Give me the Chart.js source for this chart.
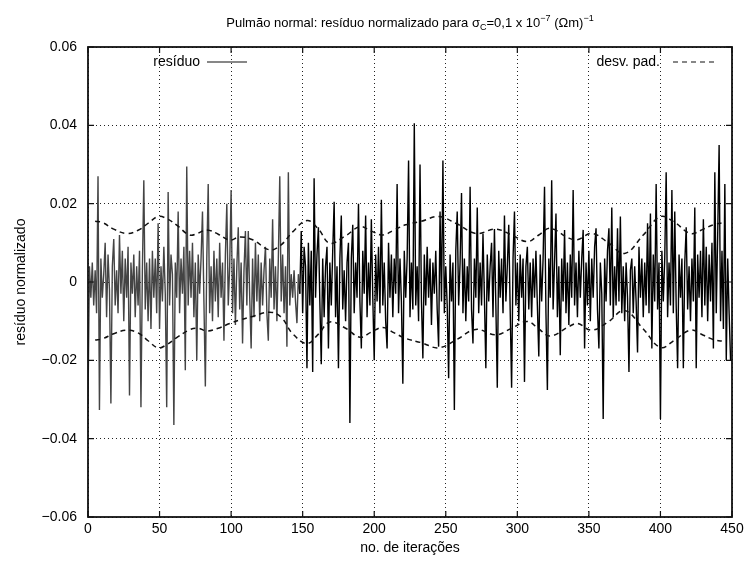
<!DOCTYPE html>
<html>
<head>
<meta charset="utf-8">
<script src="https://cdn.jsdelivr.net/npm/chart.js@4.4.1/dist/chart.umd.min.js"></script>
<style>
  body { margin: 0; background: #fff; }
  #wrap { position: relative; width: 750px; height: 566px; }
  #titulo {
    position: absolute; left: 88px; width: 644px; top: 15px;
    text-align: center; color: #000; line-height: 16px;
    font: 13px "Liberation Sans", Arial, sans-serif;
  }
  #titulo sub, #titulo sup { font-size: 9px; line-height: 0; position: relative; vertical-align: baseline; }
  #titulo sup { top: -6px; }
  #titulo sub { top: 3px; }
</style>
</head>
<body>
<div id="wrap">
  <canvas id="grafico"></canvas>
  <div id="titulo">Pulmão normal: resíduo normalizado para σ<sub>C</sub>=0,1 x 10<sup>−7</sup> (Ωm)<sup>−1</sup></div>
</div>
<script>
// resíduo normalizado, um valor por iteração (0..449)
const residuo = [
  -0.031, 0.004, -0.004, 0.005, -0.006, 0.003, -0.008, 0.027, -0.0327, 0.006,
  -0.004, 0.002, 0.010, -0.009, 0.007, -0.002, -0.031, 0.004, 0.011, -0.006,
  0.003, -0.008, 0.012, -0.003, 0.008, -0.010, 0.006, -0.004, 0.009, -0.029,
  0.005, -0.003, 0.007, -0.009, 0.004, -0.006, 0.008, -0.032, 0.003, 0.026,
  -0.007, 0.005, -0.010, 0.006, -0.012, 0.008, -0.004, 0.006, -0.008, 0.015,
  -0.012, 0.004, -0.005, 0.009, -0.003, -0.032, 0.023, -0.006, 0.007, 0.002,
  -0.0365, 0.005, -0.004, 0.018, -0.008, 0.006, -0.003, 0.009, -0.0225, 0.0295,
  -0.006, 0.008, -0.004, 0.010, -0.009, 0.005, -0.020, 0.007, -0.003, 0.006,
  0.018, -0.005, -0.0267, 0.006, 0.025, -0.008, 0.004, -0.010, 0.008, -0.005,
  0.006, -0.009, 0.010, -0.004, 0.005, -0.015, 0.007, 0.020, -0.006, 0.004,
  0.0235, -0.008, 0.006, -0.011, 0.004, 0.014, -0.007, 0.005, -0.0157, 0.003,
  0.013, -0.006, 0.013, -0.004, -0.017, 0.006, -0.009, 0.010, -0.005, 0.007,
  -0.010, 0.005, -0.006, 0.003, 0.009, -0.008, -0.015, 0.006, -0.004, 0.016,
  -0.007, 0.004, -0.010, 0.006, 0.027, -0.005, 0.007, -0.008, 0.004, -0.0165,
  0.028, -0.006, 0.002, -0.004, 0.003, -0.005, -0.0105, 0.002, -0.003, 0.013,
  -0.008, 0.009, 0.004, -0.022, 0.010, -0.006, 0.008, -0.023, 0.0265, -0.004,
  0.007, 0.014, -0.005, -0.021, 0.006, -0.009, 0.004, 0.009, -0.017, 0.005,
  -0.006, 0.008, 0.0205, -0.009, 0.004, -0.022, 0.006, 0.017, -0.007, 0.003,
  -0.010, 0.005, 0.010, -0.036, 0.006, 0.0146, -0.008, 0.005, -0.004, 0.020,
  -0.005, -0.017, 0.008, -0.003, 0.017, -0.009, 0.005, -0.006, 0.016, -0.004,
  -0.020, 0.007, -0.005, 0.009, -0.008, 0.021, -0.006, 0.005, -0.010, -0.017,
  0.010, -0.004, 0.007, -0.009, 0.006, -0.003, 0.025, -0.008, 0.006, -0.005,
  -0.026, 0.008, -0.004, 0.006, 0.031, -0.009, 0.005, -0.007, 0.0405, -0.006,
  0.004, -0.010, 0.030, -0.005, -0.0195, 0.007, -0.006, 0.009, -0.004, 0.006,
  -0.011, 0.005, -0.003, 0.008, -0.007, -0.0165, 0.018, -0.005, 0.031, -0.008,
  0.004, -0.006, -0.0246, 0.007, -0.005, 0.005, -0.0327, 0.008, 0.018, -0.006,
  0.005, 0.0227, -0.008, 0.006, -0.010, 0.004, -0.005, 0.0243, -0.007, -0.0157,
  0.006, -0.004, 0.019, -0.008, 0.005, -0.006, 0.0124, -0.004, -0.022, 0.007,
  -0.005, 0.004, 0.010, -0.009, 0.0135, -0.006, -0.027, 0.008, -0.004, 0.006,
  -0.008, 0.017, -0.005, 0.004, 0.0146, -0.007, -0.027, 0.006, 0.018, -0.006,
  0.005, -0.010, 0.007, -0.004, 0.006, -0.0255, 0.004, 0.009, -0.007, 0.005,
  -0.009, 0.006, -0.004, 0.008, -0.006, -0.019, 0.007, -0.005, 0.006, 0.0243,
  -0.008, -0.0276, 0.006, -0.004, 0.026, -0.007, 0.005, 0.0175, -0.009, 0.004,
  -0.0187, 0.006, -0.005, 0.0133, -0.008, 0.005, -0.011, 0.007, -0.004, 0.0235,
  -0.006, 0.005, -0.009, 0.008, -0.004, 0.006, 0.0133, -0.017, 0.005, -0.006,
  0.008, -0.010, 0.006, -0.004, 0.009, 0.0137, -0.007, -0.017, 0.005, -0.003,
  -0.035, 0.006, -0.005, 0.008, 0.0137, -0.006, 0.019, -0.009, 0.004, -0.006,
  0.0137, -0.005, 0.0167, -0.008, 0.004, -0.010, 0.005, -0.004, -0.023, 0.003,
  0.006, -0.008, 0.004, -0.005, -0.018, 0.009, -0.004, 0.006, -0.009, 0.005,
  -0.006, 0.015, -0.008, 0.0175, -0.017, 0.007, -0.005, 0.025, -0.007, 0.005,
  -0.035, 0.008, -0.005, 0.006, 0.028, -0.009, 0.005, -0.006, 0.0235, -0.008,
  0.018, -0.006, -0.022, 0.007, -0.004, 0.006, -0.022, 0.005, 0.014, -0.007,
  0.004, -0.010, 0.006, -0.005, 0.019, -0.022, 0.007, -0.004, 0.008, -0.009,
  0.016, -0.006, 0.009, -0.010, 0.007, -0.005, 0.010, -0.017, 0.028, -0.008,
  0.012, 0.035, -0.010, 0.008, -0.012, 0.025, -0.020, 0.006, -0.008, -0.020
];

// desvio padrão (envelope tracejado)
const iterDesv = [5, 10, 18, 27, 35, 42, 49, 55, 62, 71,
  77, 83, 91, 99, 106, 115, 127, 135, 143, 153,
  161, 169, 180, 190, 198, 206, 214, 222, 233, 245,
  258, 271, 285, 296, 307, 315, 323, 336, 342, 352,
  363, 375, 388, 400, 410, 421, 430, 437, 445];
const desvSup = [0.0155, 0.0152, 0.0135, 0.0124, 0.0132, 0.015, 0.0167, 0.0162, 0.0145, 0.012,
  0.0125, 0.0133, 0.0122, 0.0107, 0.0115, 0.0108, 0.0082, 0.0095, 0.0128, 0.0157,
  0.0135, 0.0099, 0.0118, 0.0141, 0.013, 0.012, 0.0133, 0.0146, 0.0155, 0.0167,
  0.0148, 0.0124, 0.0135, 0.012, 0.0103, 0.012, 0.0137, 0.0112, 0.0108, 0.0124,
  0.0102, 0.0073, 0.012, 0.0167, 0.0152, 0.0124, 0.0135, 0.0146, 0.0152];
const desvInf = [-0.0148, -0.0145, -0.0132, -0.0123, -0.013, -0.015, -0.0168, -0.016, -0.0142, -0.0122,
  -0.0118, -0.0125, -0.0118, -0.0106, -0.0097, -0.0088, -0.0077, -0.009, -0.0132, -0.0157,
  -0.0133, -0.0102, -0.0118, -0.0141, -0.0128, -0.0116, -0.013, -0.0144, -0.0155, -0.0168,
  -0.0146, -0.0121, -0.0135, -0.0118, -0.0101, -0.012, -0.0138, -0.0114, -0.0106, -0.0123,
  -0.0103, -0.0073, -0.012, -0.0167, -0.0148, -0.0123, -0.0136, -0.0147, -0.0152];

const xTicks = { min: 0, max: 450, step: 50 };
const yTicks = { min: -0.06, max: 0.06, step: 0.02 };

const fonte = '"Liberation Sans", Arial, sans-serif';

// moldura, marcas internas e legenda no estilo gnuplot
const moldura = {
  id: "moldura",
  afterDatasetsDraw(chart) {
    const { ctx, chartArea: a, scales } = chart;
    ctx.save();
    ctx.strokeStyle = "#111";
    ctx.lineWidth = 1.2;
    ctx.beginPath();
    scales.x.ticks.forEach((t) => {
      const px = scales.x.getPixelForValue(t.value);
      ctx.moveTo(px, a.bottom); ctx.lineTo(px, a.bottom - 6);
      ctx.moveTo(px, a.top); ctx.lineTo(px, a.top + 6);
    });
    scales.y.ticks.forEach((t) => {
      const py = scales.y.getPixelForValue(t.value);
      ctx.moveTo(a.left, py); ctx.lineTo(a.left + 6, py);
      ctx.moveTo(a.right, py); ctx.lineTo(a.right - 6, py);
    });
    ctx.stroke();
    ctx.lineWidth = 1.8;
    ctx.strokeRect(a.left, a.top, a.right - a.left, a.bottom - a.top);

    // legenda
    const ly = a.top + 15;
    ctx.font = "14px " + fonte;
    ctx.fillStyle = "#000";
    ctx.textAlign = "right";
    ctx.textBaseline = "middle";
    ctx.fillText("resíduo", a.left + 112, ly);
    ctx.fillText("desv. pad.", a.right - 72, ly);
    ctx.lineWidth = 1.2;
    ctx.beginPath();
    ctx.moveTo(a.left + 119, ly); ctx.lineTo(a.left + 159, ly);
    ctx.stroke();
    ctx.setLineDash([5, 4]);
    ctx.beginPath();
    ctx.moveTo(a.right - 59, ly); ctx.lineTo(a.right - 16, ly);
    ctx.stroke();
    ctx.restore();
  },
};

const fmtY = (v) => {
  if (Math.abs(v) < 1e-9) return "0";
  return (v < 0 ? "\u2212" : "") + Math.abs(v).toFixed(2);
};

new Chart(document.getElementById("grafico"), {
  type: "line",
  data: {
    datasets: [
      {
        label: "resíduo",
        data: residuo.map((v, i) => ({ x: i, y: v })),
        borderColor: "#000",
        borderWidth: 1.4,
        pointRadius: 0,
        tension: 0,
        order: 2,
        segment: {
          borderColor: (c) => (c.p0.parsed.x < 148 ? "#444" : "#000"),
        },
      },
      {
        label: "desv. pad.",
        data: iterDesv.map((x, i) => ({ x: x, y: desvSup[i] })),
        borderColor: "#111",
        borderWidth: 1.5,
        borderDash: [5, 4],
        pointRadius: 0,
        tension: 0.4,
        order: 1,
      },
      {
        label: "desv. pad. inf",
        data: iterDesv.map((x, i) => ({ x: x, y: desvInf[i] })),
        borderColor: "#111",
        borderWidth: 1.5,
        borderDash: [5, 4],
        pointRadius: 0,
        tension: 0.4,
        order: 1,
      },
    ],
  },
  options: {
    responsive: true,
    maintainAspectRatio: false,
    animation: false,
    layout: { padding: { top: 47, right: 18, bottom: 0, left: 0 } },
    plugins: {
      legend: { display: false },
      tooltip: { enabled: false },
    },
    scales: {
      x: {
        type: "linear",
        min: xTicks.min,
        max: xTicks.max,
        afterFit: (s) => { s.height = 49; },
        ticks: { stepSize: xTicks.step, color: "#000", padding: 4, font: { family: fonte, size: 14 } },
        grid: { color: "#222", lineWidth: 1, drawTicks: false },
        border: { display: false, dash: [1, 3] },
        title: {
          display: true, text: "no. de iterações", color: "#000",
          font: { family: fonte, size: 14 }, padding: { top: 0, bottom: 9 },
        },
      },
      y: {
        min: yTicks.min,
        max: yTicks.max,
        afterFit: (s) => { s.width = 88; },
        ticks: { stepSize: yTicks.step, color: "#000", padding: 11, font: { family: fonte, size: 14 }, callback: fmtY },
        grid: { color: "#222", lineWidth: 1, drawTicks: false },
        border: { display: false, dash: [1, 3] },
        title: {
          display: true, text: "resíduo normalizado", color: "#000",
          font: { family: fonte, size: 14 }, padding: { top: 13, bottom: 0 },
        },
      },
    },
  },
  plugins: [moldura],
});
</script>
</body>
</html>
